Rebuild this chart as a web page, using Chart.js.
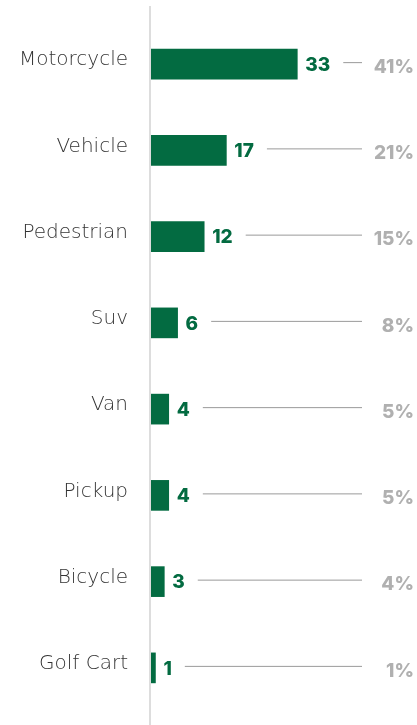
<!DOCTYPE html>
<html>
<head>
<meta charset="utf-8">
<script src="https://cdn.jsdelivr.net/npm/chart.js@4/dist/chart.umd.min.js"></script>
<style>
  html, body { margin: 0; padding: 0; background: #fff; }
  #wrap { width: 417px; height: 725px; }
</style>
</head>
<body>
<div id="wrap"><canvas id="Chart1"></canvas></div>
<script>
const categories = ["Motorcycle", "Vehicle", "Pedestrian", "Suv", "Van", "Pickup", "Bicycle", "Golf Cart"];
const counts = [33, 17, 12, 6, 4, 4, 3, 1];
const percents = ["41%", "21%", "15%", "8%", "5%", "5%", "4%", "1%"];

const green = "#036b41";

// value + leader line + percentage on the right
const labelPlugin = {
    id: "labels",
    afterDatasetsDraw(chart) {
        const ctx = chart.ctx;
        const meta = chart.getDatasetMeta(0);
        ctx.save();
        meta.data.forEach((bar, i) => {
            const y = bar.y;
            ctx.font = "800 19px Inter, 'DejaVu Sans', sans-serif";
            ctx.textBaseline = "middle";
            ctx.textAlign = "left";
            ctx.fillStyle = green;
            const txt = String(counts[i]);
            const x0 = bar.x + 8;
            ctx.fillText(txt, x0, y + 1);
            const w = ctx.measureText(txt).width;

            ctx.strokeStyle = "#9a9a9a";
            ctx.lineWidth = 1;
            ctx.beginPath();
            ctx.moveTo(x0 + w + 13, y - 1.5);
            ctx.lineTo(362, y - 1.5);
            ctx.stroke();

            ctx.textAlign = "right";
            ctx.fillStyle = "#b0b0b0";
            ctx.fillText(percents[i], 414, y + 3);
        });
        ctx.restore();
    }
};

// long vertical axis line
const axisLine = {
    id: "axisLine",
    beforeDatasetsDraw(chart) {
        const ctx = chart.ctx;
        const x = chart.chartArea.left - 1;
        ctx.save();
        ctx.strokeStyle = "#dddddd";
        ctx.lineWidth = 2;
        ctx.beginPath();
        ctx.moveTo(x, 6);
        ctx.lineTo(x, 725);
        ctx.stroke();
        ctx.restore();
    }
};

new Chart(document.getElementById("Chart1"), {
    type: "bar",
    data: {
        labels: categories,
        datasets: [{
            data: counts,
            backgroundColor: green,
            barThickness: 30,
            borderWidth: 0
        }]
    },
    options: {
        indexAxis: "y",
        responsive: true,
        maintainAspectRatio: false,
        animation: false,
        layout: { padding: { top: 21, bottom: 14, left: 0, right: 0 } },
        plugins: {
            legend: { display: false },
            tooltip: { enabled: false }
        },
        scales: {
            x: {
                display: false,
                min: 0,
                max: 60
            },
            y: {
                grid: { display: false, drawTicks: false },
                border: { display: false },
                afterFit(scale) {
                    scale.width = 151;
                    scale.paddingTop = 0;
                    scale.paddingBottom = 0;
                },
                ticks: {
                    padding: 23,
                    labelOffset: -4,
                    color: "#333333",
                    font: { family: "'DejaVu Sans', sans-serif", size: 20, weight: 200 }
                }
            }
        }
    },
    plugins: [axisLine, labelPlugin]
});
</script>
</body>
</html>
